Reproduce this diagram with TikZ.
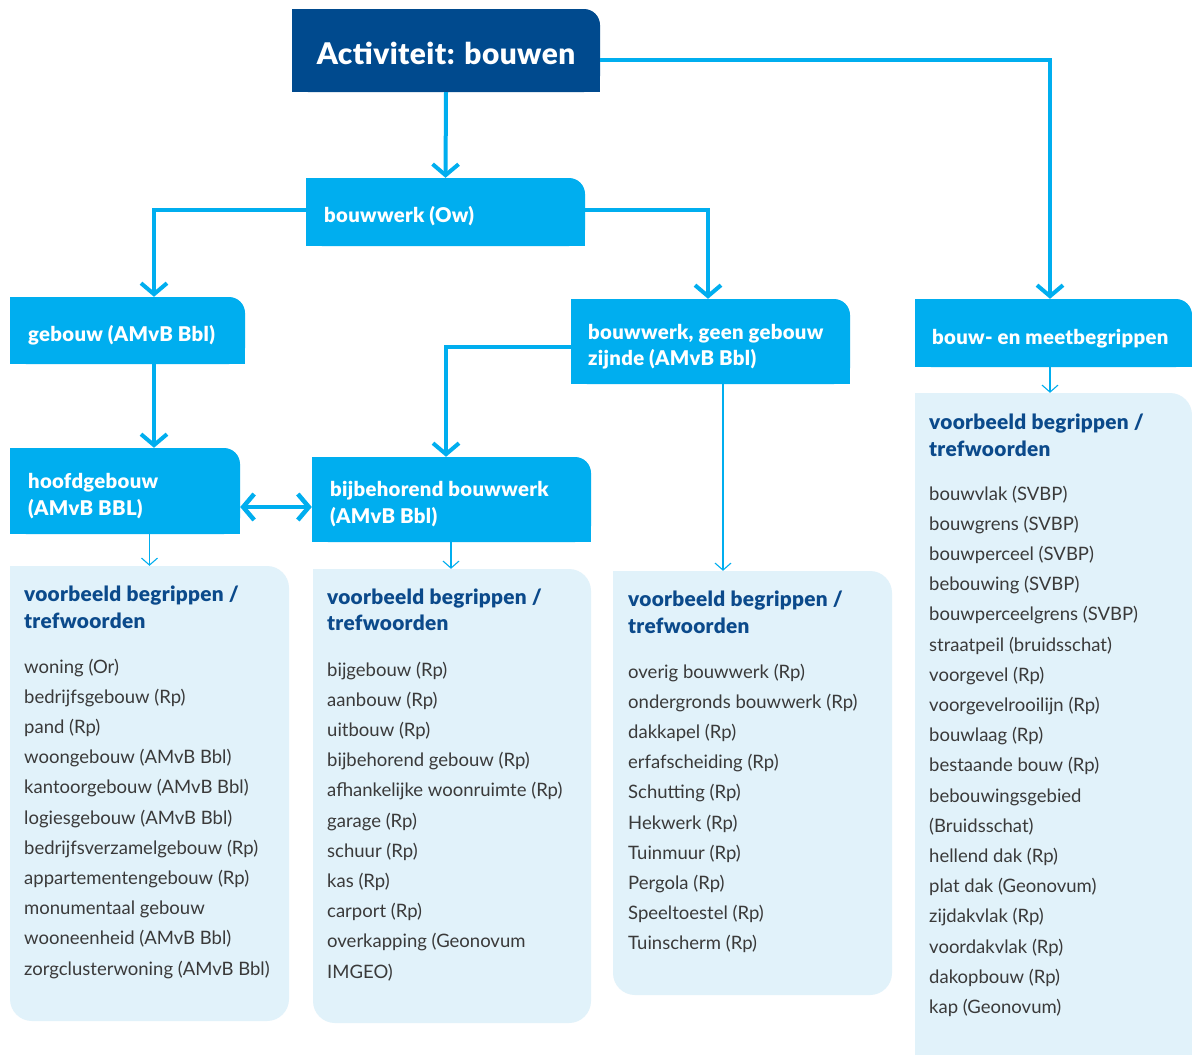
\documentclass[tikz,border=0pt]{standalone}
\usepackage{fontspec}
\setmainfont{Lato}
\newfontfamily\heavyfont{Lato Black}[LetterSpace=1.5]
\usetikzlibrary{arrows.meta,fit}
\definecolor{dkblue}{HTML}{004A8E}
\definecolor{brblue}{HTML}{00AEEF}
\definecolor{panelbg}{HTML}{E1F2FA}
\definecolor{ttl}{HTML}{0B4A8B}
\definecolor{bodytxt}{HTML}{3A3A3A}
% #1 name, #2 x1, #3 y1, #4 x2, #5 y2, #6 colour
\newcommand\HdrBox[6]{%
  \fill[#6,rounded corners=16pt] (#2,#3) rectangle (#4,#5);
  \fill[#6] (#2,#3+16) rectangle (#4,#5);
  \fill[#6] (#2,#3) rectangle (#4-16,#5);
  \node[fit={(#2,#3) (#4,#5)},inner sep=0pt] (#1) {};
}
\newcommand\PanelBox[5]{%
  \fill[panelbg,rounded corners=22pt] (#2,#3) rectangle (#4,#5);
  \fill[panelbg] (#2,#3) rectangle (#2+30,#3+30);
  \node[fit={(#2,#3) (#4,#5)},inner sep=0pt] (#1) {};
}
% #1 name, #2 x, #3 first baseline, #4 items
\newcommand\ItemList[4]{%
  \foreach \t [count=\i] in {#4}
    \node[itemtxt] (#1-\i) at (#2,#3+30.2*\i-30.2) {\t};
}
\begin{document}
\begin{tikzpicture}[x=1pt,y=-1pt,
  bigarrow/.style={draw=brblue,line width=4pt,-{Straight Barb[length=11pt,width=26pt]}},
  dblarrow/.style={draw=brblue,line width=4.5pt,{Straight Barb[length=11pt,width=26pt]}-{Straight Barb[length=11pt,width=26pt]}},
  thinarrow/.style={draw=brblue,line width=1.1pt,-{Straight Barb[length=7pt,width=16pt]}},
  boxtxt/.style={anchor=base west,inner sep=0pt,text=white,font=\fontsize{20.3}{23}\heavyfont},
  ptitle/.style={anchor=base west,inner sep=0pt,text=ttl,font=\fontsize{20.8}{23}\heavyfont},
  itemtxt/.style={anchor=base west,inner sep=0pt,text=bodytxt,font=\fontsize{18.5}{22}\selectfont}]
\useasboundingbox (0,0) rectangle (1192,1055);
\fill[white] (0,0) rectangle (1192,1055);

% header boxes
\HdrBox{act}{292}{9}{600}{92}{dkblue}
\HdrBox{bw}{306}{178}{585}{246}{brblue}
\HdrBox{geb}{10}{297}{245}{364}{brblue}
\HdrBox{gg}{571}{299}{850}{384}{brblue}
\HdrBox{bm}{915}{299}{1192}{367}{brblue}
\HdrBox{hg}{10}{448}{240}{534}{brblue}
\HdrBox{bb}{312}{457}{591}{542}{brblue}

% panels
\PanelBox{p1}{10}{566}{289}{1021}
\PanelBox{p2}{313}{569}{591}{1023}
\PanelBox{p3}{613}{571}{892}{995}
\PanelBox{p4}{915}{393}{1192}{1080}

% box texts
\node[anchor=base,inner sep=0pt,text=white,font=\fontsize{29.8}{32}\heavyfont] (act-t) at (446,64) {Activiteit: bouwen};
\node[boxtxt] (bw-t) at (324,222) {bouwwerk (Ow)};
\node[boxtxt] (geb-t) at (28,341) {gebouw (AMvB Bbl)};
\node[boxtxt] (gg-t1) at (588,339) {bouwwerk, geen gebouw};
\node[boxtxt] (gg-t2) at (588,365) {zijnde (AMvB Bbl)};
\node[boxtxt] (bm-t) at (932,344) {bouw- en meetbegrippen};
\node[boxtxt] (hg-t1) at (28,488) {hoofdgebouw};
\node[boxtxt] (hg-t2) at (28,515) {(AMvB BBL)};
\node[boxtxt] (bb-t1) at (330,496) {bijbehorend bouwwerk};
\node[boxtxt] (bb-t2) at (330,523) {(AMvB Bbl)};

% connectors
\draw[bigarrow] (act.south) -- (bw.north);
\draw[bigarrow] ([yshift=-9.5pt]act.east) -| ([xshift=-3.5pt]bm.north);
\draw[bigarrow] ([yshift=2pt]bw.west) -| ([xshift=26.5pt]geb.north);
\draw[bigarrow] ([yshift=2pt]bw.east) -| ([xshift=-2.5pt]gg.north);
\draw[bigarrow] ([xshift=26.5pt]geb.south) -- ([xshift=26.5pt]geb.south |- hg.north);
\draw[bigarrow] ([yshift=-5.5pt]gg.west) -| ([xshift=-5.5pt]bb.north);
\draw[dblarrow] ([yshift=-16pt]hg.east) -- ([yshift=-16pt]hg.east -| bb.west);
\draw[thinarrow] (p1.north |- hg.south) -- (p1.north);
\draw[thinarrow] ([xshift=-1pt]p2.north |- bb.south) -- ([xshift=-1pt]p2.north);
\draw[thinarrow] ([xshift=-29.5pt]p3.north |- gg.south) -- ([xshift=-29.5pt]p3.north);
\draw[thinarrow] ([xshift=-3.5pt]p4.north |- bm.south) -- ([xshift=-3.5pt]p4.north);

% panel titles
\node[ptitle] (p1-h1) at (24,601) {voorbeeld begrippen /};
\node[ptitle] (p1-h2) at (24,628) {trefwoorden};
\node[ptitle] (p2-h1) at (327,604) {voorbeeld begrippen /};
\node[ptitle] (p2-h2) at (327,630) {trefwoorden};
\node[ptitle] (p3-h1) at (628,606) {voorbeeld begrippen /};
\node[ptitle] (p3-h2) at (628,633) {trefwoorden};
\node[ptitle] (p4-h1) at (929,429) {voorbeeld begrippen /};
\node[ptitle] (p4-h2) at (929,456) {trefwoorden};

% item lists
\ItemList{p1i}{24}{673}{woning (Or),bedrijfsgebouw (Rp),pand (Rp),woongebouw (AMvB Bbl),kantoorgebouw (AMvB Bbl),logiesgebouw (AMvB Bbl),bedrijfsverzamelgebouw (Rp),appartementengebouw (Rp),monumentaal gebouw,wooneenheid (AMvB Bbl),zorgclusterwoning (AMvB Bbl)}
\ItemList{p2i}{327}{676}{bijgebouw (Rp),aanbouw (Rp),uitbouw (Rp),bijbehorend gebouw (Rp),afhankelijke woonruimte (Rp),garage (Rp),schuur (Rp),kas (Rp),carport (Rp),overkapping (Geonovum,IMGEO)}
\ItemList{p3i}{628}{678}{overig bouwwerk (Rp),ondergronds bouwwerk (Rp),dakkapel (Rp),erfafscheiding (Rp),Schutting (Rp),Hekwerk (Rp),Tuinmuur (Rp),Pergola (Rp),Speeltoestel (Rp),Tuinscherm (Rp)}
\ItemList{p4i}{929}{500}{bouwvlak (SVBP),bouwgrens (SVBP),bouwperceel (SVBP),bebouwing (SVBP),bouwperceelgrens (SVBP),straatpeil (bruidsschat),voorgevel (Rp),voorgevelrooilijn (Rp),bouwlaag (Rp),bestaande bouw (Rp),bebouwingsgebied,(Bruidsschat),hellend dak (Rp),plat dak (Geonovum),zijdakvlak (Rp),voordakvlak (Rp),dakopbouw (Rp),kap (Geonovum)}
\end{tikzpicture}
\end{document}
